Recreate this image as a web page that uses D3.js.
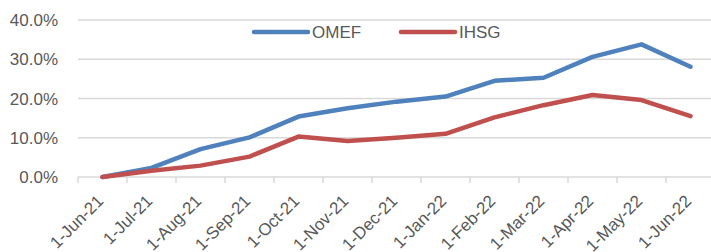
<!DOCTYPE html>
<html>
<head>
<meta charset="utf-8">
<script src="https://cdn.jsdelivr.net/npm/d3@7"></script>
<style>
  body { margin: 0; background: #fff; }
  text { font-family: "Liberation Sans", Arial, sans-serif; fill: #595959; }
</style>
</head>
<body>
<div id="chart"></div>
<script>
const months = ["1-Jun-21","1-Jul-21","1-Aug-21","1-Sep-21","1-Oct-21","1-Nov-21","1-Dec-21",
                "1-Jan-22","1-Feb-22","1-Mar-22","1-Apr-22","1-May-22","1-Jun-22"];
const omef = [0.0, 2.3, 7.1, 10.1, 15.4, 17.5, 19.2, 20.5, 24.5, 25.3, 30.6, 33.8, 28.1];
const ihsg = [0.0, 1.6, 2.9, 5.2, 10.3, 9.2, 10.0, 11.0, 15.2, 18.3, 20.9, 19.6, 15.5];
const yTicks = [0, 10, 20, 30, 40];

const series = [
  { name: "OMEF", values: omef, color: "#4f81bd" },
  { name: "IHSG", values: ihsg, color: "#c0504d" }
];

const width = 711, height = 252;
const svg = d3.select("#chart").append("svg")
  .attr("width", width)
  .attr("height", height);

const x = d3.scaleBand().domain(months).range([78, 715]);
const y = d3.scaleLinear().domain([0, 40]).range([177, 20]);

// gridlines
svg.selectAll(".grid")
  .data(yTicks)
  .enter().append("line")
  .attr("x1", 78).attr("x2", 715)
  .attr("y1", d => y(d)).attr("y2", d => y(d))
  .attr("stroke", "#d9d9d9")
  .attr("stroke-width", 1.5);

// y labels
svg.selectAll(".ylab")
  .data(yTicks)
  .enter().append("text")
  .attr("x", 58)
  .attr("y", d => y(d) + 6)
  .attr("text-anchor", "end")
  .style("font-size", "17px")
  .text(d => d.toFixed(1) + "%");

// x tick marks (between categories)
const tickPos = months.map(m => x(m)).concat([x.range()[1]]);
svg.selectAll(".xtick")
  .data(tickPos)
  .enter().append("line")
  .attr("x1", d => d).attr("x2", d => d)
  .attr("y1", y(0)).attr("y2", y(0) + 6)
  .attr("stroke", "#d9d9d9")
  .attr("stroke-width", 1.5);

// x labels
svg.selectAll(".xlab")
  .data(months)
  .enter().append("text")
  .attr("transform", d => `translate(${x(d) + x.bandwidth() / 2 + 2},${y(0) + 25}) rotate(-45)`)
  .attr("text-anchor", "end")
  .style("font-size", "17px")
  .text(d => d);

// lines
const line = d3.line()
  .x((d, i) => x(months[i]) + x.bandwidth() / 2)
  .y(d => y(d));

svg.selectAll(".series")
  .data(series)
  .enter().append("path")
  .attr("d", d => line(d.values))
  .attr("fill", "none")
  .attr("stroke", d => d.color)
  .attr("stroke-width", 4.5)
  .attr("stroke-linejoin", "round")
  .attr("stroke-linecap", "round");

// legend
const legend = svg.selectAll(".legend")
  .data(series)
  .enter().append("g")
  .attr("transform", (d, i) => `translate(${254 + i * 147},32)`);

legend.append("line")
  .attr("x1", 0).attr("x2", 54)
  .attr("stroke", d => d.color)
  .attr("stroke-width", 4.5)
  .attr("stroke-linecap", "round");

legend.append("text")
  .attr("x", 58)
  .attr("y", 6)
  .style("font-size", "17px")
  .text(d => d.name);
</script>
</body>
</html>
